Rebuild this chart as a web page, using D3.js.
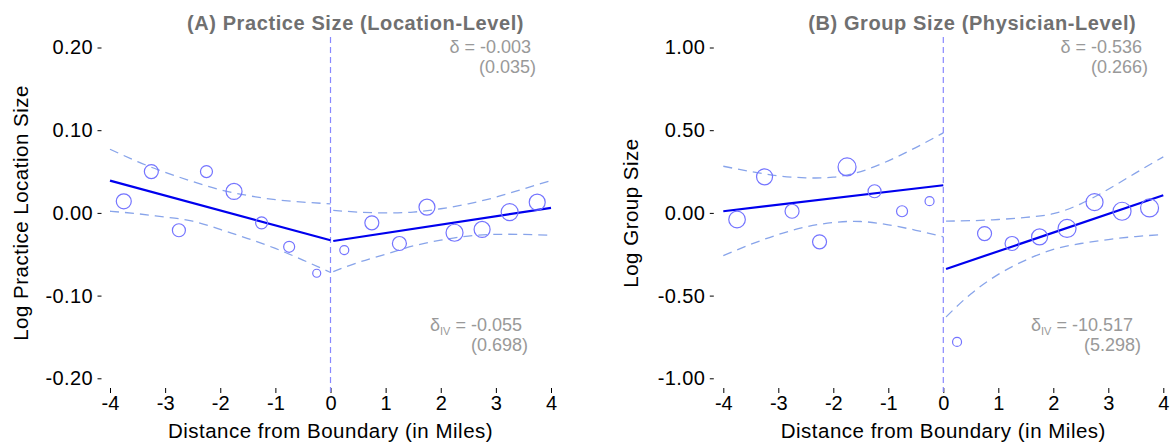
<!DOCTYPE html>
<html><head><meta charset="utf-8">
<script src="https://cdn.jsdelivr.net/npm/d3@7"></script>
<style>body{margin:0;background:#fff}svg{display:block;font-family:"Liberation Sans",Arial,sans-serif}</style>
</head><body><svg id="c" width="1175" height="447"></svg>
<script>
// ---- data ----
const bins = [-3.75,-3.25,-2.75,-2.25,-1.75,-1.25,-0.75,-0.25,0.25,0.75,1.25,1.75,2.25,2.75,3.25,3.75];
const meansA = [0.014,0.050,-0.021,0.050,0.026,-0.012,-0.041,-0.073,-0.045,-0.012,-0.037,0.007,-0.024,-0.020,0.001,0.013];
const weightsA = [7.5,7,6.5,6,8,6,5.5,4,4.5,7,7,8,8.5,8,8.5,8];
const meansB = [-0.040,0.218,0.010,-0.175,0.278,0.131,0.010,0.071,-0.780,-0.125,-0.185,-0.145,-0.094,0.065,0.010,0.030];
const weightsB = [8.3,8,7,7,9,6.5,5.5,4.5,4.5,7,7,8,9,8.5,9,9];
const fitXLeft = [-4, 0];
const fitXRight = [0.05, 4];
const fitLeftA = [0.039, -0.033];
const fitRightA = [-0.034, 0.006];
const fitLeftB = [0.010, 0.167];
const fitRightB = [-0.339, 0.107];
const ciXLeft = [-4,-3.5,-3,-2.5,-2,-1.5,-1,-0.5,0];
const ciXRight = [0.05,0.5,1,1.5,2,2.5,3,3.5,4];
const upLeftA = [0.077,0.062,0.049,0.038,0.028,0.021,0.016,0.013,0.011];
const loLeftA = [0.002,-0.001,-0.005,-0.010,-0.020,-0.031,-0.043,-0.057,-0.072];
const upRightA = [0.003,0.001,0.000,0.001,0.005,0.011,0.019,0.029,0.039];
const loRightA = [-0.071,-0.060,-0.050,-0.040,-0.033,-0.028,-0.026,-0.026,-0.027];
const upLeftB = [0.282,0.250,0.224,0.212,0.216,0.250,0.315,0.395,0.484];
const loLeftB = [-0.258,-0.190,-0.131,-0.085,-0.058,-0.052,-0.072,-0.105,-0.145];
const upRightB = [-0.050,-0.047,-0.040,-0.027,-0.005,0.055,0.143,0.242,0.339];
const loRightB = [-0.629,-0.490,-0.372,-0.285,-0.221,-0.185,-0.161,-0.143,-0.131];
const xTicks = [-4,-3,-2,-1,0,1,2,3,4];
const yTicksA = [-0.2,-0.1,0,0.1,0.2];
const yTicksB = [-1,-0.5,0,0.5,1];
const titles = ["(A) Practice Size (Location-Level)", "(B) Group Size (Physician-Level)"];
const yLabels = ["Log Practice Location Size", "Log Group Size"];
const xLabel = "Distance from Boundary (in Miles)";
const deltaA = ["-0.003","(0.035)","-0.055","(0.698)"];
const deltaB = ["-0.536","(0.266)","-10.517","(5.298)"];

// ---- drawing ----
const svg = d3.select("#c");
const FIT = "#0000ee", CI = "#88a4ea", DOT = "#7474ff", VL = "#8888ff", GRAY = "#999999";
const hy = s => s.replace("\u2212", "-");
const f2 = d3.format(".2f"), fd = d3.format("d");

function panel(cfg){
  const x = d3.scaleLinear().domain([-4,4]).range([cfg.x0, cfg.x1]);
  const y = d3.scaleLinear().domain(cfg.ydom).range([378.3, 47.5]);
  const r = d3.scaleLinear().domain([0,10]).range([0,10]);
  const g = svg.append("g");

  // y axis
  const ya = g.append("g").attr("transform", `translate(${cfg.x0-cfg.yax},0)`)
    .call(d3.axisLeft(y).tickValues(cfg.yticks).tickSize(4).tickPadding(4.5).tickFormat(d=>hy(f2(d))));
  ya.select(".domain").remove();
  ya.selectAll("text").attr("font-size", 20).attr("letter-spacing", 0.4).attr("fill","#000")
    .attr("font-family","Liberation Sans, Arial, sans-serif");
  ya.selectAll("line").attr("stroke","#000");

  // x axis
  const xa = g.append("g").attr("transform", "translate(0,388)")
    .call(d3.axisBottom(x).tickValues(xTicks).tickSize(5).tickPadding(3).tickFormat(d=>hy(fd(d))));
  xa.select(".domain").remove();
  xa.selectAll("text").attr("font-size", 20).attr("fill","#000")
    .attr("font-family","Liberation Sans, Arial, sans-serif");
  xa.selectAll("line").attr("stroke","#000");

  // vertical boundary line
  g.append("line").attr("x1", x(0)).attr("x2", x(0)).attr("y1", 37).attr("y2", 392)
    .attr("stroke", VL).attr("stroke-width", 1.2).attr("stroke-dasharray", "6,4");

  // CI bands
  const ln = d3.line().x(d=>x(d[0])).y(d=>y(d[1])).curve(d3.curveNatural);
  [[ciXLeft,cfg.upL],[ciXLeft,cfg.loL],[ciXRight,cfg.upR],[ciXRight,cfg.loR]].forEach(([xs,vs])=>{
    g.append("path").attr("d", ln(xs.map((d,i)=>[d,vs[i]])))
      .attr("fill","none").attr("stroke",CI).attr("stroke-width",1.3).attr("stroke-dasharray","9,6");
  });

  // fit lines
  const fl = d3.line().x(d=>x(d[0])).y(d=>y(d[1]));
  [[fitXLeft,cfg.fitL],[fitXRight,cfg.fitR]].forEach(([xs,vs])=>{
    g.append("path").attr("d", fl(xs.map((d,i)=>[d,vs[i]])))
      .attr("fill","none").attr("stroke",FIT).attr("stroke-width",2.2);
  });

  // binned means
  g.selectAll("circle.pt").data(bins).join("circle").attr("class","pt")
    .attr("cx", d=>x(d)).attr("cy", (d,i)=>y(cfg.means[i])).attr("r",(d,i)=>r(cfg.w[i]))
    .attr("fill","none").attr("stroke",DOT).attr("stroke-width",1.2);

  // title
  g.append("text").attr("x", x(0)+cfg.tdx).attr("y", 30).attr("text-anchor","middle")
    .attr("font-size", 20).attr("letter-spacing", 0.6).attr("font-weight","bold").attr("fill","#707070").text(cfg.title);

  // axis labels
  g.append("text").attr("x", x(0)).attr("y", 438).attr("text-anchor","middle")
    .attr("font-size", 20.5).attr("letter-spacing", 0.5).attr("fill","#000").text(xLabel);
  g.append("text").attr("transform", `translate(${cfg.ylx},213) rotate(-90)`).attr("text-anchor","middle")
    .attr("font-size", 20.5).attr("letter-spacing", 0.5).attr("fill","#000").text(cfg.ylabel);

  // delta annotations
  g.append("text").attr("x", cfg.ax[0]).attr("y", 53).attr("text-anchor","end")
    .attr("font-size",18).attr("fill",GRAY).text("δ = " + cfg.delta[0]);
  g.append("text").attr("x", cfg.ax[1]).attr("y", 73).attr("text-anchor","end")
    .attr("font-size",18).attr("fill",GRAY).text(cfg.delta[1]);
  const t3 = g.append("text").attr("x", cfg.ax[2]).attr("y", 331).attr("text-anchor","end")
    .attr("font-size",18).attr("fill",GRAY);
  t3.append("tspan").text("δ");
  t3.append("tspan").attr("font-size",11).attr("dy",4).text("IV");
  t3.append("tspan").attr("dy",-4).text(" = " + cfg.delta[2]);
  g.append("text").attr("x", cfg.ax[3]).attr("y", 351).attr("text-anchor","end")
    .attr("font-size",18).attr("fill",GRAY).text(cfg.delta[3]);
}

panel({x0:110, x1:551, ydom:[-0.2,0.2], yticks:yTicksA, yax:8.5, means:meansA, w:weightsA,
  fitL:fitLeftA, fitR:fitRightA, upL:upLeftA, loL:loLeftA, upR:upRightA, loR:loRightA,
  title:titles[0], tdx:25, ylabel:yLabels[0], ylx:28, delta:deltaA, ax:[531,536,522,528]});
panel({x0:723.3, x1:1163.3, ydom:[-1,1], yticks:yTicksB, yax:9.5, means:meansB, w:weightsB,
  fitL:fitLeftB, fitR:fitRightB, upL:upLeftB, loL:loLeftB, upR:upRightB, loR:loRightB,
  title:titles[1], tdx:29, ylabel:yLabels[1], ylx:638, delta:deltaB, ax:[1142,1148,1133,1141]});
</script></body></html>
